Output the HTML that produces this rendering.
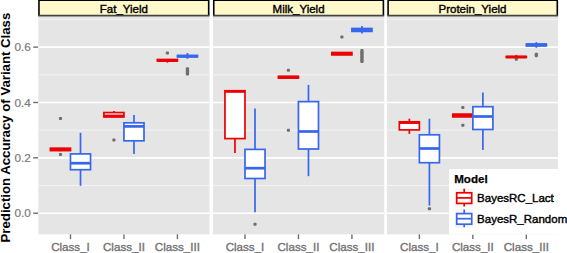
<!DOCTYPE html><html><head><meta charset="utf-8"><style>html,body{margin:0;padding:0;background:#fff;}svg{display:block;}text{font-family:"Liberation Sans",sans-serif;}</style></head><body>
<svg width="567" height="253" viewBox="0 0 567 253">
<rect x="0" y="0" width="567" height="253" fill="#fff"/>
<text x="0" y="0" transform="translate(9.7,127.6) rotate(-90)" text-anchor="middle" font-size="13.2" font-weight="bold" fill="#000">Prediction Accuracy of Variant Class</text>
<text x="30.9" y="217.40" text-anchor="end" font-size="11.8" fill="#7A7A7A" stroke="#7A7A7A" stroke-width="0.2">0.0</text>
<line x1="33.2" x2="38.4" y1="213.20" y2="213.20" stroke="#6E6E6E" stroke-width="1.4"/>
<text x="30.9" y="162.04" text-anchor="end" font-size="11.8" fill="#7A7A7A" stroke="#7A7A7A" stroke-width="0.2">0.2</text>
<line x1="33.2" x2="38.4" y1="157.84" y2="157.84" stroke="#6E6E6E" stroke-width="1.4"/>
<text x="30.9" y="106.68" text-anchor="end" font-size="11.8" fill="#7A7A7A" stroke="#7A7A7A" stroke-width="0.2">0.4</text>
<line x1="33.2" x2="38.4" y1="102.48" y2="102.48" stroke="#6E6E6E" stroke-width="1.4"/>
<text x="30.9" y="51.32" text-anchor="end" font-size="11.8" fill="#7A7A7A" stroke="#7A7A7A" stroke-width="0.2">0.6</text>
<line x1="33.2" x2="38.4" y1="47.12" y2="47.12" stroke="#6E6E6E" stroke-width="1.4"/>
<rect x="38.3" y="16.6" width="171.20" height="217.80" fill="#E5E5E5"/>
<line x1="38.3" x2="209.5" y1="185.52" y2="185.52" stroke="#F3F3F3" stroke-width="1.0"/>
<line x1="38.3" x2="209.5" y1="130.16" y2="130.16" stroke="#F3F3F3" stroke-width="1.0"/>
<line x1="38.3" x2="209.5" y1="74.80" y2="74.80" stroke="#F3F3F3" stroke-width="1.0"/>
<line x1="38.3" x2="209.5" y1="19.44" y2="19.44" stroke="#F3F3F3" stroke-width="1.0"/>
<line x1="38.3" x2="209.5" y1="213.20" y2="213.20" stroke="#fff" stroke-width="1.6"/>
<line x1="38.3" x2="209.5" y1="157.84" y2="157.84" stroke="#fff" stroke-width="1.6"/>
<line x1="38.3" x2="209.5" y1="102.48" y2="102.48" stroke="#fff" stroke-width="1.6"/>
<line x1="38.3" x2="209.5" y1="47.12" y2="47.12" stroke="#fff" stroke-width="1.6"/>
<rect x="38.95" y="0.3" width="169.75" height="15.3" fill="#FFF8CA"/>
<path d="M38.95,15.6 V0.3 H208.70 V15.6" fill="none" stroke="#000" stroke-width="1.6"/>
<line x1="38.15" x2="209.50" y1="15.65" y2="15.65" stroke="#45453F" stroke-width="1.7"/>
<text x="123.90" y="12.5" text-anchor="middle" font-size="11.5" fill="#000" stroke="#000" stroke-width="0.4">Fat_Yield</text>
<line x1="70.48" x2="70.48" y1="234.4" y2="239.1" stroke="#6E6E6E" stroke-width="1.4"/>
<text x="70.48" y="251" text-anchor="middle" font-size="11.6" fill="#737373" stroke="#737373" stroke-width="0.35">Class_I</text>
<line x1="123.95" x2="123.95" y1="234.4" y2="239.1" stroke="#6E6E6E" stroke-width="1.4"/>
<text x="123.95" y="251" text-anchor="middle" font-size="11.6" fill="#737373" stroke="#737373" stroke-width="0.35">Class_II</text>
<line x1="177.42" x2="177.42" y1="234.4" y2="239.1" stroke="#6E6E6E" stroke-width="1.4"/>
<text x="177.42" y="251" text-anchor="middle" font-size="11.6" fill="#737373" stroke="#737373" stroke-width="0.35">Class_III</text>
<rect x="212.9" y="16.6" width="171.30" height="217.80" fill="#E5E5E5"/>
<line x1="212.9" x2="384.2" y1="185.52" y2="185.52" stroke="#F3F3F3" stroke-width="1.0"/>
<line x1="212.9" x2="384.2" y1="130.16" y2="130.16" stroke="#F3F3F3" stroke-width="1.0"/>
<line x1="212.9" x2="384.2" y1="74.80" y2="74.80" stroke="#F3F3F3" stroke-width="1.0"/>
<line x1="212.9" x2="384.2" y1="19.44" y2="19.44" stroke="#F3F3F3" stroke-width="1.0"/>
<line x1="212.9" x2="384.2" y1="213.20" y2="213.20" stroke="#fff" stroke-width="1.6"/>
<line x1="212.9" x2="384.2" y1="157.84" y2="157.84" stroke="#fff" stroke-width="1.6"/>
<line x1="212.9" x2="384.2" y1="102.48" y2="102.48" stroke="#fff" stroke-width="1.6"/>
<line x1="212.9" x2="384.2" y1="47.12" y2="47.12" stroke="#fff" stroke-width="1.6"/>
<rect x="213.75" y="0.3" width="169.65" height="15.3" fill="#FFF8CA"/>
<path d="M213.75,15.6 V0.3 H383.40 V15.6" fill="none" stroke="#000" stroke-width="1.6"/>
<line x1="212.95" x2="384.20" y1="15.65" y2="15.65" stroke="#45453F" stroke-width="1.7"/>
<text x="298.55" y="12.5" text-anchor="middle" font-size="11.5" fill="#000" stroke="#000" stroke-width="0.4">Milk_Yield</text>
<line x1="244.98" x2="244.98" y1="234.4" y2="239.1" stroke="#6E6E6E" stroke-width="1.4"/>
<text x="244.98" y="251" text-anchor="middle" font-size="11.6" fill="#737373" stroke="#737373" stroke-width="0.35">Class_I</text>
<line x1="298.45" x2="298.45" y1="234.4" y2="239.1" stroke="#6E6E6E" stroke-width="1.4"/>
<text x="298.45" y="251" text-anchor="middle" font-size="11.6" fill="#737373" stroke="#737373" stroke-width="0.35">Class_II</text>
<line x1="351.92" x2="351.92" y1="234.4" y2="239.1" stroke="#6E6E6E" stroke-width="1.4"/>
<text x="351.92" y="251" text-anchor="middle" font-size="11.6" fill="#737373" stroke="#737373" stroke-width="0.35">Class_III</text>
<rect x="386.9" y="16.6" width="171.20" height="217.80" fill="#E5E5E5"/>
<line x1="386.9" x2="558.1" y1="185.52" y2="185.52" stroke="#F3F3F3" stroke-width="1.0"/>
<line x1="386.9" x2="558.1" y1="130.16" y2="130.16" stroke="#F3F3F3" stroke-width="1.0"/>
<line x1="386.9" x2="558.1" y1="74.80" y2="74.80" stroke="#F3F3F3" stroke-width="1.0"/>
<line x1="386.9" x2="558.1" y1="19.44" y2="19.44" stroke="#F3F3F3" stroke-width="1.0"/>
<line x1="386.9" x2="558.1" y1="213.20" y2="213.20" stroke="#fff" stroke-width="1.6"/>
<line x1="386.9" x2="558.1" y1="157.84" y2="157.84" stroke="#fff" stroke-width="1.6"/>
<line x1="386.9" x2="558.1" y1="102.48" y2="102.48" stroke="#fff" stroke-width="1.6"/>
<line x1="386.9" x2="558.1" y1="47.12" y2="47.12" stroke="#fff" stroke-width="1.6"/>
<rect x="388.10" y="0.3" width="169.20" height="15.3" fill="#FFF8CA"/>
<path d="M388.10,15.6 V0.3 H557.30 V15.6" fill="none" stroke="#000" stroke-width="1.6"/>
<line x1="387.30" x2="558.10" y1="15.65" y2="15.65" stroke="#45453F" stroke-width="1.7"/>
<text x="472.50" y="12.5" text-anchor="middle" font-size="11.5" fill="#000" stroke="#000" stroke-width="0.4">Protein_Yield</text>
<line x1="419.38" x2="419.38" y1="234.4" y2="239.1" stroke="#6E6E6E" stroke-width="1.4"/>
<text x="419.38" y="251" text-anchor="middle" font-size="11.6" fill="#737373" stroke="#737373" stroke-width="0.35">Class_I</text>
<line x1="472.85" x2="472.85" y1="234.4" y2="239.1" stroke="#6E6E6E" stroke-width="1.4"/>
<text x="472.85" y="251" text-anchor="middle" font-size="11.6" fill="#737373" stroke="#737373" stroke-width="0.35">Class_II</text>
<line x1="526.32" x2="526.32" y1="234.4" y2="239.1" stroke="#6E6E6E" stroke-width="1.4"/>
<text x="526.32" y="251" text-anchor="middle" font-size="11.6" fill="#737373" stroke="#737373" stroke-width="0.35">Class_III</text>
<rect x="58.86" y="152.90" width="3.2" height="3" rx="1" fill="#6E6E6E"/>
<rect x="58.86" y="116.90" width="3.2" height="3" rx="1" fill="#6E6E6E"/>
<line x1="60.46" x2="60.46" y1="147.9" y2="148.2" stroke="#EE0000" stroke-width="1.7"/>
<line x1="60.46" x2="60.46" y1="150.6" y2="151.2" stroke="#EE0000" stroke-width="1.7"/>
<rect x="50.43" y="148.2" width="20.05" height="2.40" fill="#fff" stroke="#EE0000" stroke-width="1.7"/>
<line x1="50.43" x2="70.48" y1="149.4" y2="149.4" stroke="#EE0000" stroke-width="2.72"/>
<line x1="80.51" x2="80.51" y1="132.8" y2="153.9" stroke="#3667EC" stroke-width="1.7"/>
<line x1="80.51" x2="80.51" y1="169.7" y2="185.8" stroke="#3667EC" stroke-width="1.7"/>
<rect x="70.48" y="153.9" width="20.05" height="15.80" fill="#fff" stroke="#3667EC" stroke-width="1.7"/>
<line x1="70.48" x2="90.53" y1="163.2" y2="163.2" stroke="#3667EC" stroke-width="2.72"/>
<rect x="112.32" y="138.60" width="3.2" height="3" rx="1" fill="#6E6E6E"/>
<line x1="113.92" x2="113.92" y1="110.9" y2="112.55" stroke="#EE0000" stroke-width="1.7"/>
<line x1="113.92" x2="113.92" y1="116.95" y2="117.3" stroke="#EE0000" stroke-width="1.7"/>
<rect x="103.90" y="112.55" width="20.05" height="4.40" fill="#fff" stroke="#EE0000" stroke-width="1.7"/>
<line x1="103.90" x2="123.95" y1="115.95" y2="115.95" stroke="#EE0000" stroke-width="2.72"/>
<line x1="133.98" x2="133.98" y1="114.9" y2="122.8" stroke="#3667EC" stroke-width="1.7"/>
<line x1="133.98" x2="133.98" y1="140.8" y2="153.9" stroke="#3667EC" stroke-width="1.7"/>
<rect x="123.95" y="122.8" width="20.05" height="18.00" fill="#fff" stroke="#3667EC" stroke-width="1.7"/>
<line x1="123.95" x2="144.00" y1="126.4" y2="126.4" stroke="#3667EC" stroke-width="2.72"/>
<rect x="165.79" y="51.50" width="3.2" height="3" rx="1" fill="#6E6E6E"/>
<line x1="167.39" x2="167.39" y1="59.3" y2="59.5" stroke="#EE0000" stroke-width="1.7"/>
<line x1="167.39" x2="167.39" y1="61.0" y2="62.7" stroke="#EE0000" stroke-width="1.7"/>
<rect x="157.37" y="59.5" width="20.05" height="1.50" fill="#fff" stroke="#EE0000" stroke-width="1.7"/>
<line x1="157.37" x2="177.42" y1="60.5" y2="60.5" stroke="#EE0000" stroke-width="2.72"/>
<rect x="185.84" y="67.20" width="3.2" height="3" rx="1" fill="#6E6E6E"/>
<rect x="185.84" y="68.70" width="3.2" height="3" rx="1" fill="#6E6E6E"/>
<rect x="185.84" y="70.20" width="3.2" height="3" rx="1" fill="#6E6E6E"/>
<rect x="185.84" y="71.70" width="3.2" height="3" rx="1" fill="#6E6E6E"/>
<rect x="185.84" y="72.40" width="3.2" height="3" rx="1" fill="#6E6E6E"/>
<line x1="187.44" x2="187.44" y1="53.0" y2="55.5" stroke="#3667EC" stroke-width="1.7"/>
<line x1="187.44" x2="187.44" y1="56.9" y2="58.8" stroke="#3667EC" stroke-width="1.7"/>
<rect x="177.42" y="55.5" width="20.05" height="1.40" fill="#fff" stroke="#3667EC" stroke-width="1.7"/>
<line x1="177.42" x2="197.47" y1="56.2" y2="56.2" stroke="#3667EC" stroke-width="2.72"/>
<line x1="234.96" x2="234.96" y1="90.75" y2="90.75" stroke="#EE0000" stroke-width="1.7"/>
<line x1="234.96" x2="234.96" y1="138.6" y2="153.1" stroke="#EE0000" stroke-width="1.7"/>
<rect x="224.93" y="90.75" width="20.05" height="47.85" fill="#fff" stroke="#EE0000" stroke-width="1.7"/>
<line x1="224.93" x2="244.98" y1="91.45" y2="91.45" stroke="#EE0000" stroke-width="2.72"/>
<rect x="253.41" y="222.70" width="3.2" height="3" rx="1" fill="#6E6E6E"/>
<line x1="255.01" x2="255.01" y1="108.6" y2="149.4" stroke="#3667EC" stroke-width="1.7"/>
<line x1="255.01" x2="255.01" y1="178.5" y2="212.2" stroke="#3667EC" stroke-width="1.7"/>
<rect x="244.98" y="149.4" width="20.05" height="29.10" fill="#fff" stroke="#3667EC" stroke-width="1.7"/>
<line x1="244.98" x2="265.03" y1="168.2" y2="168.2" stroke="#3667EC" stroke-width="2.72"/>
<rect x="286.82" y="68.70" width="3.2" height="3" rx="1" fill="#6E6E6E"/>
<rect x="286.82" y="128.70" width="3.2" height="3" rx="1" fill="#6E6E6E"/>
<line x1="288.42" x2="288.42" y1="76.2" y2="76.3" stroke="#EE0000" stroke-width="1.7"/>
<line x1="288.42" x2="288.42" y1="78.1" y2="78.2" stroke="#EE0000" stroke-width="1.7"/>
<rect x="278.40" y="76.3" width="20.05" height="1.80" fill="#fff" stroke="#EE0000" stroke-width="1.7"/>
<line x1="278.40" x2="298.45" y1="77.2" y2="77.2" stroke="#EE0000" stroke-width="2.72"/>
<line x1="308.48" x2="308.48" y1="84.9" y2="101.6" stroke="#3667EC" stroke-width="1.7"/>
<line x1="308.48" x2="308.48" y1="149.0" y2="176.2" stroke="#3667EC" stroke-width="1.7"/>
<rect x="298.45" y="101.6" width="20.05" height="47.40" fill="#fff" stroke="#3667EC" stroke-width="1.7"/>
<line x1="298.45" x2="318.50" y1="131.5" y2="131.5" stroke="#3667EC" stroke-width="2.72"/>
<rect x="340.29" y="35.60" width="3.2" height="3" rx="1" fill="#6E6E6E"/>
<line x1="341.89" x2="341.89" y1="52.4" y2="52.5" stroke="#EE0000" stroke-width="1.7"/>
<line x1="341.89" x2="341.89" y1="54.9" y2="55.0" stroke="#EE0000" stroke-width="1.7"/>
<rect x="331.87" y="52.5" width="20.05" height="2.40" fill="#fff" stroke="#EE0000" stroke-width="1.7"/>
<line x1="331.87" x2="351.92" y1="53.7" y2="53.7" stroke="#EE0000" stroke-width="2.72"/>
<rect x="360.34" y="49.10" width="3.2" height="3" rx="1" fill="#6E6E6E"/>
<rect x="360.34" y="50.70" width="3.2" height="3" rx="1" fill="#6E6E6E"/>
<rect x="360.34" y="52.30" width="3.2" height="3" rx="1" fill="#6E6E6E"/>
<rect x="360.34" y="53.90" width="3.2" height="3" rx="1" fill="#6E6E6E"/>
<rect x="360.34" y="55.50" width="3.2" height="3" rx="1" fill="#6E6E6E"/>
<rect x="360.34" y="57.10" width="3.2" height="3" rx="1" fill="#6E6E6E"/>
<rect x="360.34" y="58.70" width="3.2" height="3" rx="1" fill="#6E6E6E"/>
<rect x="360.34" y="60.10" width="3.2" height="3" rx="1" fill="#6E6E6E"/>
<line x1="361.94" x2="361.94" y1="25.9" y2="28.5" stroke="#3667EC" stroke-width="1.7"/>
<line x1="361.94" x2="361.94" y1="31.4" y2="33.6" stroke="#3667EC" stroke-width="1.7"/>
<rect x="351.92" y="28.5" width="20.05" height="2.90" fill="#fff" stroke="#3667EC" stroke-width="1.7"/>
<line x1="351.92" x2="371.97" y1="30.0" y2="30.0" stroke="#3667EC" stroke-width="2.72"/>
<line x1="409.36" x2="409.36" y1="118.7" y2="121.8" stroke="#EE0000" stroke-width="1.7"/>
<line x1="409.36" x2="409.36" y1="129.9" y2="133.9" stroke="#EE0000" stroke-width="1.7"/>
<rect x="399.33" y="121.8" width="20.05" height="8.10" fill="#fff" stroke="#EE0000" stroke-width="1.7"/>
<line x1="399.33" x2="419.38" y1="122.6" y2="122.6" stroke="#EE0000" stroke-width="2.72"/>
<rect x="427.81" y="207.20" width="3.2" height="3" rx="1" fill="#6E6E6E"/>
<line x1="429.41" x2="429.41" y1="118.7" y2="134.8" stroke="#3667EC" stroke-width="1.7"/>
<line x1="429.41" x2="429.41" y1="162.7" y2="205.6" stroke="#3667EC" stroke-width="1.7"/>
<rect x="419.38" y="134.8" width="20.05" height="27.90" fill="#fff" stroke="#3667EC" stroke-width="1.7"/>
<line x1="419.38" x2="439.43" y1="148.5" y2="148.5" stroke="#3667EC" stroke-width="2.72"/>
<rect x="461.22" y="106.00" width="3.2" height="3" rx="1" fill="#6E6E6E"/>
<rect x="461.22" y="123.70" width="3.2" height="3" rx="1" fill="#6E6E6E"/>
<line x1="462.82" x2="462.82" y1="114.0" y2="114.1" stroke="#EE0000" stroke-width="1.7"/>
<line x1="462.82" x2="462.82" y1="116.9" y2="116.9" stroke="#EE0000" stroke-width="1.7"/>
<rect x="452.80" y="114.1" width="20.05" height="2.80" fill="#fff" stroke="#EE0000" stroke-width="1.7"/>
<line x1="452.80" x2="472.85" y1="115.4" y2="115.4" stroke="#EE0000" stroke-width="2.72"/>
<line x1="482.88" x2="482.88" y1="92.4" y2="106.7" stroke="#3667EC" stroke-width="1.7"/>
<line x1="482.88" x2="482.88" y1="129.5" y2="150.1" stroke="#3667EC" stroke-width="1.7"/>
<rect x="472.85" y="106.7" width="20.05" height="22.80" fill="#fff" stroke="#3667EC" stroke-width="1.7"/>
<line x1="472.85" x2="492.90" y1="116.5" y2="116.5" stroke="#3667EC" stroke-width="2.72"/>
<rect x="514.69" y="57.80" width="3.2" height="3" rx="1" fill="#6E6E6E"/>
<line x1="516.29" x2="516.29" y1="54.9" y2="56.5" stroke="#EE0000" stroke-width="1.7"/>
<line x1="516.29" x2="516.29" y1="57.4" y2="57.5" stroke="#EE0000" stroke-width="1.7"/>
<rect x="506.27" y="56.5" width="20.05" height="0.90" fill="#fff" stroke="#EE0000" stroke-width="1.7"/>
<line x1="506.27" x2="526.32" y1="57.0" y2="57.0" stroke="#EE0000" stroke-width="2.72"/>
<rect x="534.74" y="52.70" width="3.2" height="3" rx="1" fill="#6E6E6E"/>
<rect x="534.74" y="54.30" width="3.2" height="3" rx="1" fill="#6E6E6E"/>
<line x1="536.34" x2="536.34" y1="42.1" y2="44.0" stroke="#3667EC" stroke-width="1.7"/>
<line x1="536.34" x2="536.34" y1="45.9" y2="47.8" stroke="#3667EC" stroke-width="1.7"/>
<rect x="526.32" y="44.0" width="20.05" height="1.90" fill="#fff" stroke="#3667EC" stroke-width="1.7"/>
<line x1="526.32" x2="546.37" y1="45.0" y2="45.0" stroke="#3667EC" stroke-width="2.72"/>
<rect x="449" y="169" width="120" height="65.5" fill="#fff"/>
<text x="454.2" y="183" font-size="11.6" font-weight="bold" fill="#000" stroke="#000" stroke-width="0.25">Model</text>
<rect x="455.2" y="188.5" width="18" height="18.5" fill="#F6F6F6"/>
<line x1="464.2" x2="464.2" y1="188.7" y2="206.5" stroke="#EE0000" stroke-width="1.7"/>
<rect x="456.7" y="192.8" width="15" height="10.6" fill="#fff" stroke="#EE0000" stroke-width="1.7"/>
<line x1="456.7" x2="471.7" y1="197.9" y2="197.9" stroke="#EE0000" stroke-width="1.7"/>
<text x="477.1" y="202.3" font-size="11.5" fill="#000" stroke="#000" stroke-width="0.4">BayesRC_Lact</text>
<rect x="455.2" y="209.3" width="18" height="18.5" fill="#F6F6F6"/>
<line x1="464.2" x2="464.2" y1="209.5" y2="227.3" stroke="#3667EC" stroke-width="1.7"/>
<rect x="456.7" y="213.60000000000002" width="15" height="10.6" fill="#fff" stroke="#3667EC" stroke-width="1.7"/>
<line x1="456.7" x2="471.7" y1="218.70000000000002" y2="218.70000000000002" stroke="#3667EC" stroke-width="1.7"/>
<text x="477.1" y="223.10000000000002" font-size="11.5" fill="#000" stroke="#000" stroke-width="0.4">BayesR_Random</text>
</svg></body></html>
